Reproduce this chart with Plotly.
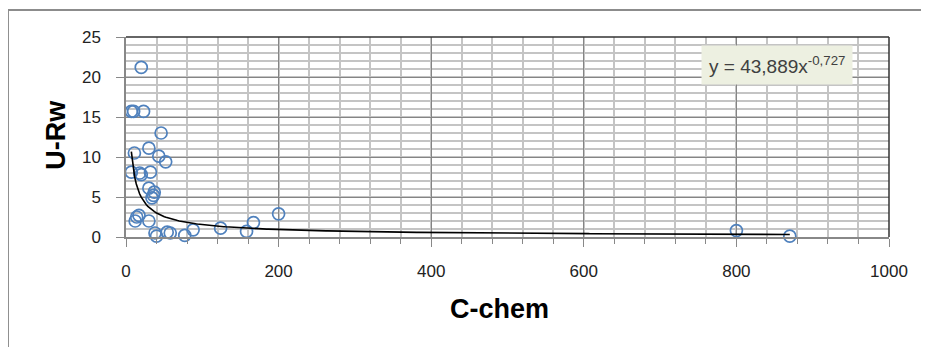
import numpy as np
import plotly.graph_objects as go

# Data
c_chem = [20, 7, 10, 23, 46, 30, 11, 43, 52, 7, 18, 20, 32, 30, 37, 34, 36,
          14, 12, 17, 30, 38, 40, 54, 58, 77, 88, 124, 158, 167, 200, 800, 870]
u_rw = [21.2, 15.7, 15.7, 15.7, 13.0, 11.1, 10.5, 10.1, 9.4, 8.1, 8.0, 7.8, 8.1,
        6.1, 5.6, 4.9, 5.2, 2.5, 2.0, 2.7, 2.0, 0.5, 0.1, 0.6, 0.5, 0.2, 0.9,
        1.1, 0.7, 1.8, 2.9, 0.8, 0.1]

# Power trendline coefficients as displayed in the chart
trend_a = 43.889
trend_b = -0.727
equation_text = "y = 43,889x<sup>-0,727</sup>"

x_ticks = [0, 200, 400, 600, 800, 1000]
y_ticks = [0, 5, 10, 15, 20, 25]

tx = np.linspace(min(c_chem), max(c_chem), 400)
ty = trend_a * tx ** trend_b

fig = go.Figure()
fig.add_trace(go.Scatter(
    x=c_chem, y=u_rw, mode="markers",
    marker=dict(symbol="circle-open", size=12, color="#4f81bd",
                line=dict(width=1.7, color="#5b8cc8")),
    showlegend=False, cliponaxis=False))
fig.add_trace(go.Scatter(
    x=tx, y=ty, mode="lines", line=dict(color="black", width=1.6),
    showlegend=False))

font_family = "Liberation Sans, Arial, sans-serif"

fig.update_layout(
    width=921, height=339,
    margin=dict(l=118, r=40, t=29, b=110),
    paper_bgcolor="white", plot_bgcolor="white",
    font=dict(family=font_family, color="black"),
    xaxis=dict(range=[0, 1000], tickvals=x_ticks, ticks="outside", ticklen=8,
               tickcolor="#888888", tickwidth=1.2,
               tickfont=dict(size=17, color="#222222"), ticklabelstandoff=10,
               showline=True, linecolor="#888888", linewidth=1.5,
               showgrid=True, gridcolor="#858585", gridwidth=1.3,
               zeroline=False,
               minor=dict(dtick=40, showgrid=True, gridcolor="#c4c4c4",
                          gridwidth=1.6, ticks="outside", ticklen=5,
                          tickcolor="#888888")),
    yaxis=dict(range=[0, 25], tickvals=y_ticks, ticks="outside", ticklen=8,
               tickcolor="#888888", tickwidth=1.2,
               tickfont=dict(size=17, color="#222222"), ticklabelstandoff=12,
               showline=True, linecolor="#888888", linewidth=1.5,
               showgrid=True, gridcolor="#858585", gridwidth=1.3,
               zeroline=False,
               minor=dict(dtick=1, showgrid=True, gridcolor="#c4c4c4",
                          gridwidth=1.6)),
    shapes=[
        # plot area top and right border
        dict(type="line", xref="paper", yref="paper", x0=0, x1=1, y0=1, y1=1,
             line=dict(color="#333333", width=1.5)),
        dict(type="line", xref="paper", yref="paper", x0=1, x1=1, y0=0, y1=1,
             line=dict(color="#333333", width=1.5)),
        # outer chart frame (top and left)
        dict(type="line", xref="paper", yref="paper", x0=-0.1547, x1=1.06,
             y0=1.135, y1=1.135, line=dict(color="#8c8c8c", width=2)),
        dict(type="line", xref="paper", yref="paper", x0=-0.1547, x1=-0.1547,
             y0=1.135, y1=-0.56, line=dict(color="#8c8c8c", width=2)),
    ],
    annotations=[
        dict(text="<b>U-Rw</b>", xref="paper", yref="paper", x=-0.092, y=0.51,
             textangle=-90, showarrow=False, xanchor="center", yanchor="middle",
             font=dict(size=27, color="black")),
        dict(text="<b>C-chem</b>", xref="paper", yref="paper", x=0.49, y=-0.36,
             showarrow=False, xanchor="center", yanchor="middle",
             font=dict(size=27, color="black")),
        dict(text=equation_text, xref="paper", yref="paper", x=0.853, y=0.86,
             showarrow=False, xanchor="center", yanchor="middle",
             bgcolor="#edf0e1", borderpad=7,
             font=dict(size=19, color="#404040")),
    ],
)

fig.write_html("out.html")
